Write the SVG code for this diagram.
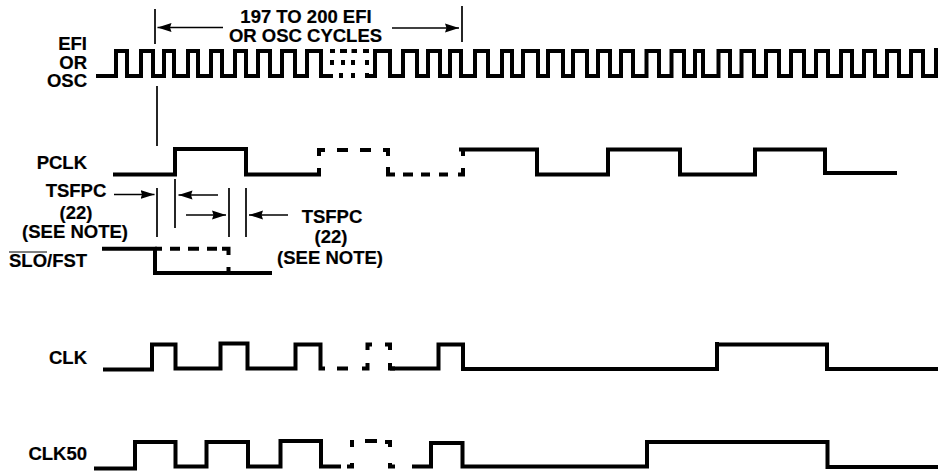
<svg xmlns="http://www.w3.org/2000/svg" width="938" height="473" viewBox="0 0 938 473">
<style>
text{font-family:"Liberation Sans",Arial,sans-serif;font-weight:700;font-size:18.5px;fill:#000;stroke:#000;stroke-width:.2}
.r{text-anchor:end}
.m{text-anchor:middle}
.w{fill:none;stroke:#000;stroke-width:4;stroke-linejoin:miter;stroke-linecap:butt}
.t{fill:none;stroke:#000;stroke-width:1.7}
.a{fill:none;stroke:#000;stroke-width:1.7;marker-end:url(#h)}
</style>
<defs>
<marker id="h" markerUnits="userSpaceOnUse" markerWidth="15" markerHeight="10" refX="14" refY="5" orient="auto">
<path d="M0 .5L14 5L0 9.500L1.500 5Z" fill="#000"/>
</marker>
</defs>
<rect width="938" height="473" fill="#fff"/>
<g id="connectors">
<path class="t" d="M155 9V44M157 86V146M462 6V42M157 188V237M175 179V228M229 188V237M246 188V237"/>
<path class="a" d="M223 27.500H157.500"/>
<path class="a" d="M392 28H459"/>
<path class="a" d="M114 194.500H154.500"/>
<path class="a" d="M218 195H178.500"/>
<path class="a" d="M186 215H226"/>
<path class="a" d="M288 215H249"/>
</g>
<g id="cycles-label">
<text class="m" x="306" y="23">197 TO 200 EFI</text>
<text class="m" x="305.500" y="41.500">OR OSC CYCLES</text>
</g>
<g id="efi-osc">
<text class="r" x="87" y="49.500">EFI</text>
<text class="r" x="87" y="69">OR</text>
<text class="r" x="87" y="87">OSC</text>
<path class="w" d="M96 76H116V51H127V76H141V51H153V76H164V51H174V76H188V51H198V76H211V51H222V76H235V51H246V76H258V51H270V76H282V51H295V76H307V51H321V76H333"/>
<path class="w" d="M330 51H335M340 51H347M351.500 51H357M363 51H369M332 60V65M343 60V65M353 60V65M367 60V65M341 73V78M353 73V78M367 73V78"/>
<path class="w" d="M366 76H375V51H390V76H403V51H417V76H428V51H440V76H450V51H461V76H475V51H488V76H502V51H512V76H523V51H538V76H548V51H563V76H573V51H587V76H598V51H610V76H621V51H633V76H646.500V51H659V76H671.500V51H684V76H695V51H703V76H718.500V51H730V76H741.500V51H754V76H766V51H779V76H791V51H804V76H816V51H828V76H841V51H852V76H864V51H875V76H887V51H899V76H911V51H923V76H936V48"/>
</g>
<g id="pclk">
<text class="r" x="87" y="169">PCLK</text>
<path class="w" d="M113 174.500H175V149H246V174.500H319V168"/>
<path class="w" d="M319 156V150H325M337 150H348M360 150H371M383 150H388V156M388 167V174.500H395M403 174.500H413M421 174.500H430M439 174.500H448M458 174.500H463V168M463 156V150"/>
<path class="w" d="M459 149.500H537V174.500H608V149.500H680V176.500M680 174.500H755V149.500H825V173H897"/>
</g>
<g id="tsfpc-left">
<text class="m" x="76" y="197">TSFPC</text>
<text class="m" x="76" y="218.500">(22)</text>
<text class="m" x="75" y="238">(SEE NOTE)</text>
</g>
<g id="tsfpc-right">
<text class="m" x="332" y="222.500">TSFPC</text>
<text class="m" x="331" y="243">(22)</text>
<text class="m" x="330" y="264">(SEE NOTE)</text>
</g>
<g id="slo-fst">
<text x="9" y="267">SLO/FST</text>
<path d="M9 252H47" stroke="#000" stroke-width="1"/>
<path class="w" d="M102 248.700H155V273M153 273H272"/>
<path class="w" d="M155 248.700H162M170 248.700H180M188 248.700H199M207 248.700H217M222 248.700H228.500V255M228.500 267V272"/>
</g>
<g id="clk">
<text class="r" x="87" y="364">CLK</text>
<path class="w" d="M103 369.500H152V344.500H175.500V368.500H220.500V343.500H247.500V368.500H295.500V342.500M295.500 344.500H320.500V368.500H325"/>
<path class="w" d="M337 368.500H348M362 368.500H367.500V363M367.500 350V344.500H372M385 344.500H390V350M390 363V368.500H395"/>
<path class="w" d="M390 368.500H438.500V344.500H463V369H717V342M717 344.500H827V369H938"/>
</g>
<g id="clk50">
<text class="r" x="87" y="460">CLK50</text>
<path class="w" d="M94 468.500H135V442H175.500V466.500H206.500V442H248V466.500H280.500V441H321V466.500H341"/>
<path class="w" d="M347 466.500H352V463M352 447V440M365 441H377M385 442H390V447M390 463V468M388 466.500H395"/>
<path class="w" d="M412 466.500H431V443H462.500V466.500H647V442H827.500V467H938"/>
</g>
</svg>
